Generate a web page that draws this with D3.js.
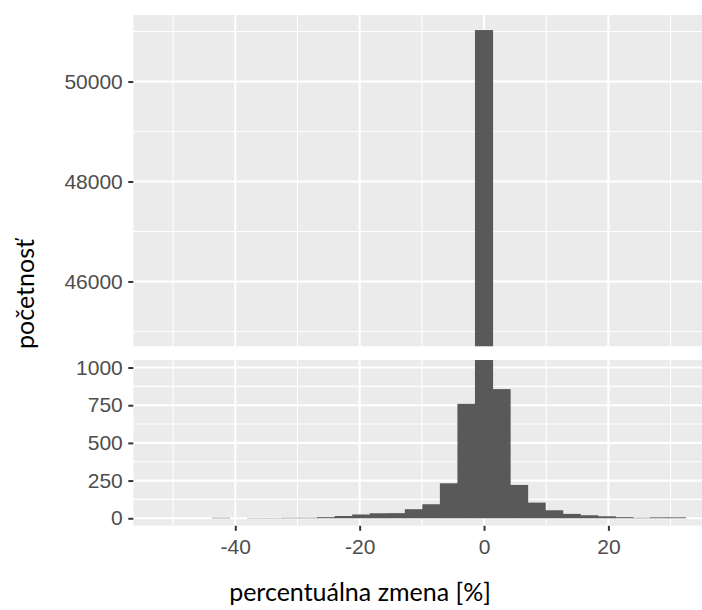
<!DOCTYPE html>
<html>
<head>
<meta charset="utf-8">
<script src="https://cdn.jsdelivr.net/npm/d3@7/dist/d3.min.js"></script>
<style>
    body { margin: 0; background: #fff; }
    svg { display: block; }
    .axis text { font-family: "Liberation Sans", Arial, sans-serif; font-size: 21px; fill: #4d4d4d; }
    .axis line { stroke: #333; stroke-width: 2px; }
    .axis path { display: none; }
    .title { font-family: Lato, "Open Sans", sans-serif; fill: #000; }
</style>
</head>
<body>
<div id="chart"></div>
<script>
// histogram bins (centres, %) and counts
var binCenters = [-50.76, -47.94, -45.12, -42.30, -39.48, -36.66, -33.84, -31.02, -28.20, -25.38,
                  -22.56, -19.74, -16.92, -14.10, -11.28, -8.46, -5.64, -2.82, 0.00, 2.82,
                  5.64, 8.46, 11.28, 14.10, 16.92, 19.74, 22.56, 25.38, 28.20, 31.02];
var counts = [0, 0, 0, 3, 0, 2, 2, 3, 3, 7,
              15, 25, 33, 34, 60, 93, 232, 759, 51030, 857,
              221, 104, 53, 29, 20, 13, 7, 3, 6, 6];
var binWidth = 2.82;

var xMajor = [-40, -20, 0, 20],
    xMinor = [-50, -30, -10, 10, 30];
var topMajor = [46000, 48000, 50000],
    topMinor = [45000, 47000, 49000, 51000],
    topLower = 45000;
var bottomMajor = [0, 250, 500, 750, 1000],
    bottomMinor = [125, 375, 625, 875],
    bottomLimits = [0, 1000];

var xTitle = 'percentuálna zmena [%]',
    yTitle = 'početnosť';

var width = 702,
    height = 610,
    left = 133.3,
    right = 712;

// ggplot style 5% expansion
var expand = function(lo, hi) {
    var d = (hi - lo) * 0.05;
    return [lo - d, hi + d];
};

var bins = binCenters.map(function(c, i) {
    return {x0: c - binWidth/2, x1: c + binWidth/2, n: counts[i]};
});

var xScale = d3.scaleLinear()
    .domain(expand(bins[0].x0, bins[bins.length-1].x1))
    .range([left, right]);

var panels = [
    {top: 15, bottom: 346.5, domain: expand(topLower, d3.max(counts)), major: topMajor, minor: topMinor},
    {top: 360, bottom: 525.8, domain: expand(bottomLimits[0], bottomLimits[1]), major: bottomMajor, minor: bottomMinor}
];

var svg = d3.select('#chart').append('svg')
    .attr('width', width)
    .attr('height', height);

var defs = svg.append('defs');

panels.forEach(function(p, pi) {
    var yScale = d3.scaleLinear()
        .domain(p.domain)
        .range([p.bottom, p.top]);

    defs.append('clipPath')
        .attr('id', 'clip' + pi)
        .append('rect')
        .attr('x', left)
        .attr('y', p.top)
        .attr('width', right - left)
        .attr('height', p.bottom - p.top);

    var g = svg.append('g')
        .attr('clip-path', 'url(#clip' + pi + ')');

    g.append('rect')
        .attr('x', left)
        .attr('y', p.top)
        .attr('width', right - left)
        .attr('height', p.bottom - p.top)
        .attr('fill', '#ebebeb');

    // grid: minor first, then major
    [[p.minor, xMinor, 1.1], [p.major, xMajor, 2.1]].forEach(function(set) {
        g.selectAll(null)
            .data(set[0])
            .enter()
            .append('line')
            .attr('x1', left)
            .attr('x2', right)
            .attr('y1', function(d) { return yScale(d); })
            .attr('y2', function(d) { return yScale(d); })
            .attr('stroke', '#fff')
            .attr('stroke-width', set[2]);

        g.selectAll(null)
            .data(set[1])
            .enter()
            .append('line')
            .attr('x1', function(d) { return xScale(d); })
            .attr('x2', function(d) { return xScale(d); })
            .attr('y1', p.top)
            .attr('y2', p.bottom)
            .attr('stroke', '#fff')
            .attr('stroke-width', set[2]);
    });

    var base = yScale(p.domain[0] < 0 ? 0 : p.domain[0]);

    g.selectAll('.bar')
        .data(bins.filter(function(d) { return d.n > 0; }))
        .enter()
        .append('rect')
        .attr('class', 'bar')
        .attr('x', function(d) { return xScale(d.x0) - 0.3; })
        .attr('width', function(d) { return xScale(d.x1) - xScale(d.x0) + 0.6; })
        .attr('y', function(d) { return yScale(d.n); })
        .attr('height', function(d) { return Math.max(0, base - yScale(d.n)); })
        .attr('fill', '#595959');

    svg.append('g')
        .attr('class', 'axis')
        .attr('transform', 'translate(' + left + ',0)')
        .call(d3.axisLeft(yScale)
            .tickValues(p.major)
            .tickSize(5)
            .tickPadding(5.5)
            .tickFormat(d3.format('d')));
});

svg.append('g')
    .attr('class', 'axis')
    .attr('transform', 'translate(0,' + panels[1].bottom + ')')
    .call(d3.axisBottom(xScale)
        .tickValues(xMajor)
        .tickSize(5)
        .tickPadding(8)
        .tickFormat(function(d) { return d < 0 ? '-' + Math.abs(d) : d; }));

svg.append('text')
    .attr('class', 'title')
    .attr('x', 360)
    .attr('y', 601)
    .attr('text-anchor', 'middle')
    .style('font-size', '25px')
    .text(xTitle);

svg.append('text')
    .attr('class', 'title')
    .attr('transform', 'translate(34,294) rotate(-90)')
    .attr('text-anchor', 'middle')
    .style('font-size', '25px')
    .text(yTitle);
</script>
</body>
</html>
